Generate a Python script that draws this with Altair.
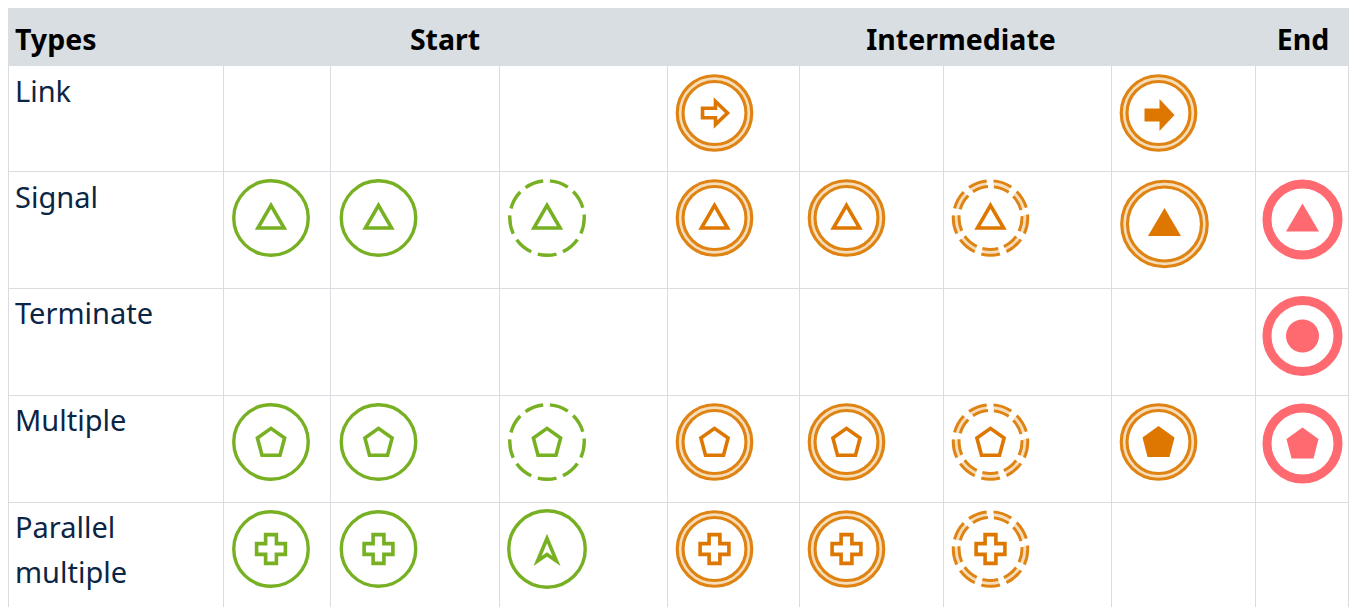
import altair as alt
import pandas as pd

# ---- table content ----
header_labels = ["Types", "Start", "Intermediate", "End"]
row_names = ["Link", "Signal", "Terminate", "Multiple", "Parallel"]
columns = ["s1", "s2", "s3", "i1", "i2", "i3", "i4", "e1"]

# (row, column, ring kind, glyph, glyph filled?)
icons = [
    ("Link", "i1", "double", "arrow", False),
    ("Link", "i4", "double", "arrow", True),
    ("Signal", "s1", "single", "triangle", False),
    ("Signal", "s2", "single", "triangle", False),
    ("Signal", "s3", "single_dash", "triangle", False),
    ("Signal", "i1", "double", "triangle", False),
    ("Signal", "i2", "double", "triangle", False),
    ("Signal", "i3", "double_dash", "triangle", False),
    ("Signal", "i4", "double_big", "triangle", True),
    ("Signal", "e1", "thick", "triangle", True),
    ("Terminate", "e1", "thick", "disc", True),
    ("Multiple", "s1", "single", "pentagon", False),
    ("Multiple", "s2", "single", "pentagon", False),
    ("Multiple", "s3", "single_dash", "pentagon", False),
    ("Multiple", "i1", "double", "pentagon", False),
    ("Multiple", "i2", "double", "pentagon", False),
    ("Multiple", "i3", "double_dash", "pentagon", False),
    ("Multiple", "i4", "double", "pentagon", True),
    ("Multiple", "e1", "thick", "pentagon", True),
    ("Parallel", "s1", "single", "plus", False),
    ("Parallel", "s2", "single", "plus", False),
    ("Parallel", "s3", "single", "nav", False),
    ("Parallel", "i1", "double", "plus", False),
    ("Parallel", "i2", "double", "plus", False),
    ("Parallel", "i3", "double_dash", "plus", False),
]

# ---- table layout (page pixels) ----
col_edges = [223, 330, 499, 667, 799, 943, 1111, 1255]
row_edges = [171, 288, 395, 502]
col_center = dict(zip(columns, [271, 378.5, 547, 714.5, 846.5, 990.5, 1158.5, 1302.5]))
row_center = dict(zip(row_names, [113, 218, 336, 442, 549]))
nudges = {("Signal", "i4"): (6, 6), ("Signal", "e1"): (0, 1.5), ("Multiple", "e1"): (0, 1.5)}
PAGE_RIGHT = 1349
PAGE_BOTTOM = 607

GREEN, ORANGE, RED = "#77B022", "#DF8312", "#FF6970"
PALE = "#F6DDBB"
GLYPH_ORANGE = "#DD7700"
GRID, BAND = "#D9DDE2", "#D9DEE2"
INK = "#0B2545"


def path(points):
    return "M" + "L".join(f"{x / 16:.4f},{y / 16:.4f}" for x, y in points) + "Z"


hollow = {
    "triangle": path([(0, -12.7), (13.1, 10), (-13.1, 10)]),
    "pentagon": path([(0, -13.6), (13.6, -4), (9, 13.2), (-9, 13.2), (-13.6, -4)]),
    "plus": path([(-5.4, -14.4), (5.4, -14.4), (5.4, -5.4), (14.4, -5.4), (14.4, 5.4), (5.4, 5.4),
                  (5.4, 14.4), (-5.4, 14.4), (-5.4, 5.4), (-14.4, 5.4), (-14.4, -5.4), (-5.4, -5.4)]),
    "arrow": path([(-12, -4.8), (1, -4.8), (1, -11.5), (13, 0), (1, 11.5), (1, 4.8), (-12, 4.8)]),
    "nav": path([(0, -10.5), (9.5, 12), (0, 5.5), (-9.5, 12)]),
}
solid = {
    "triangle": path([(0, -16), (16.5, 12), (-16.5, 12)]),
    "pentagon": path([(0, -16), (16, -4.5), (11, 15), (-11, 15), (-16, -4.5)]),
    "arrow": path([(-14, -4.5), (1, -4.5), (1, -14), (16, 2), (1, 18), (1, 8.5), (-14, 8.5)]),
    "disc": "circle",
}

rings, dashed_outer, dashed_mid, dashed_inner, glyphs = [], [], [], [], []
for row, col, kind, glyph, filled in icons:
    dx, dy = nudges.get((row, col), (0, 0))
    cx, cy = col_center[col] + dx, row_center[row] + dy
    if kind == "single":
        diam = 76.5 if glyph == "nav" else 74.5
        rings.append(dict(x=cx, y=cy, size=diam ** 2, color=GREEN, sw=3.4))
    elif kind == "single_dash":
        dashed_outer.append(dict(x=cx, y=cy, color=GREEN, sw=3.4, size=74.5 ** 2))
    elif kind == "double":
        rings.append(dict(x=cx, y=cy, size=69 ** 2, color=PALE, sw=3))
        rings.append(dict(x=cx, y=cy, size=74.5 ** 2, color=ORANGE, sw=3.2))
        rings.append(dict(x=cx, y=cy, size=63 ** 2, color=ORANGE, sw=3.2))
    elif kind == "double_big":
        rings.append(dict(x=cx, y=cy, size=79.5 ** 2, color=PALE, sw=3))
        rings.append(dict(x=cx, y=cy, size=85.5 ** 2, color=ORANGE, sw=3.2))
        rings.append(dict(x=cx, y=cy, size=74 ** 2, color=ORANGE, sw=3.2))
    elif kind == "double_dash":
        dashed_mid.append(dict(x=cx, y=cy, color=PALE, sw=3, size=69 ** 2))
        dashed_outer.append(dict(x=cx, y=cy, color=ORANGE, sw=3, size=74.5 ** 2))
        dashed_inner.append(dict(x=cx, y=cy, color=ORANGE, sw=3, size=63 ** 2))
    elif kind == "thick":
        rings.append(dict(x=cx, y=cy, size=71 ** 2, color=RED, sw=9))
    colour = RED if kind == "thick" else (GREEN if kind.startswith("single") else GLYPH_ORANGE)
    glyphs.append(dict(
        x=cx, y=cy,
        shape=solid[glyph] if filled else hollow[glyph],
        size=33 ** 2 if glyph == "disc" else 32 ** 2,
        fill=colour if filled else "white",
        stroke=colour,
        sw=0 if filled else 3.6,
    ))

X = alt.X("x:Q", axis=None, scale=alt.Scale(domain=[8, PAGE_RIGHT], nice=False, zero=False, padding=0))
Y = alt.Y("y:Q", axis=None, scale=alt.Scale(domain=[8, PAGE_BOTTOM], nice=False, zero=False, reverse=True, padding=0))

band = alt.Chart(pd.DataFrame([dict(x=8, x2=PAGE_RIGHT, y=8, y2=66)])).mark_rect(color=BAND).encode(
    x=X, x2="x2:Q", y=Y, y2="y2:Q")

v_lines = alt.Chart(pd.DataFrame(
    [dict(x=e + 0.5, y=66, y2=PAGE_BOTTOM) for e in [8] + col_edges + [PAGE_RIGHT - 1]]
)).mark_rule(color=GRID, strokeWidth=1).encode(x=X, y=Y, y2="y2:Q")

h_lines = alt.Chart(pd.DataFrame(
    [dict(x=8, x2=PAGE_RIGHT, y=e + 0.5) for e in row_edges]
)).mark_rule(color=GRID, strokeWidth=1).encode(x=X, x2="x2:Q", y=Y)


def ring_layer(records, **mark):
    return alt.Chart(pd.DataFrame(records)).mark_point(shape="circle", **mark).encode(
        x=X, y=Y,
        size=alt.Size("size:Q", scale=None),
        stroke=alt.Stroke("color:N", scale=None),
        strokeWidth=alt.StrokeWidth("sw:Q", scale=None),
    )


ring_solid = ring_layer(rings, opacity=1)
ring_dash_o = ring_layer(dashed_outer, opacity=1, strokeDash=[19, 6.9], strokeDashOffset=3)
ring_dash_m = ring_layer(dashed_mid, opacity=1, strokeDash=[17.2, 6.8], strokeDashOffset=2.7)
ring_dash_i = ring_layer(dashed_inner, opacity=1, strokeDash=[16, 6], strokeDashOffset=2.4)

glyph_layer = alt.Chart(pd.DataFrame(glyphs)).mark_point(opacity=1, fillOpacity=1, strokeJoin="miter").encode(
    x=X, y=Y,
    shape=alt.Shape("shape:N", scale=None),
    size=alt.Size("size:Q", scale=None),
    fill=alt.Fill("fill:N", scale=None),
    stroke=alt.Stroke("stroke:N", scale=None),
    strokeWidth=alt.StrokeWidth("sw:Q", scale=None),
)

FONT = "Noto Sans"
head_left = alt.Chart(pd.DataFrame([dict(x=15, y=50, t=header_labels[0])])).mark_text(
    font=FONT, fontSize=28.5, fontWeight="bold", color="#000000", baseline="alphabetic", align="left"
).encode(x=X, y=Y, text="t:N")
head_center = alt.Chart(pd.DataFrame([
    dict(x=445, y=50, t=header_labels[1]),
    dict(x=961, y=50, t=header_labels[2]),
    dict(x=1303, y=50, t=header_labels[3]),
])).mark_text(
    font=FONT, fontSize=28.5, fontWeight="bold", color="#000000", baseline="alphabetic", align="center"
).encode(x=X, y=Y, text="t:N")

row_text = alt.Chart(pd.DataFrame([
    dict(x=15, y=102, t="Link"),
    dict(x=15, y=207.5, t="Signal"),
    dict(x=15, y=323.5, t="Terminate"),
    dict(x=15, y=430.5, t="Multiple"),
    dict(x=15, y=537.5, t="Parallel"),
    dict(x=15, y=582.5, t="multiple"),
])).mark_text(font=FONT, fontSize=29, color=INK, align="left", baseline="alphabetic").encode(
    x=X, y=Y, text="t:N")

chart = alt.layer(
    band, v_lines, h_lines, ring_solid, ring_dash_m, ring_dash_o, ring_dash_i, glyph_layer,
    head_left, head_center, row_text
).properties(
    width=1341, height=599, padding=0, background="white",
    autosize=alt.AutoSizeParams(type="none"),
).configure_view(stroke=None)

chart.save("out.html", embed_options={"renderer": "svg", "actions": False})
